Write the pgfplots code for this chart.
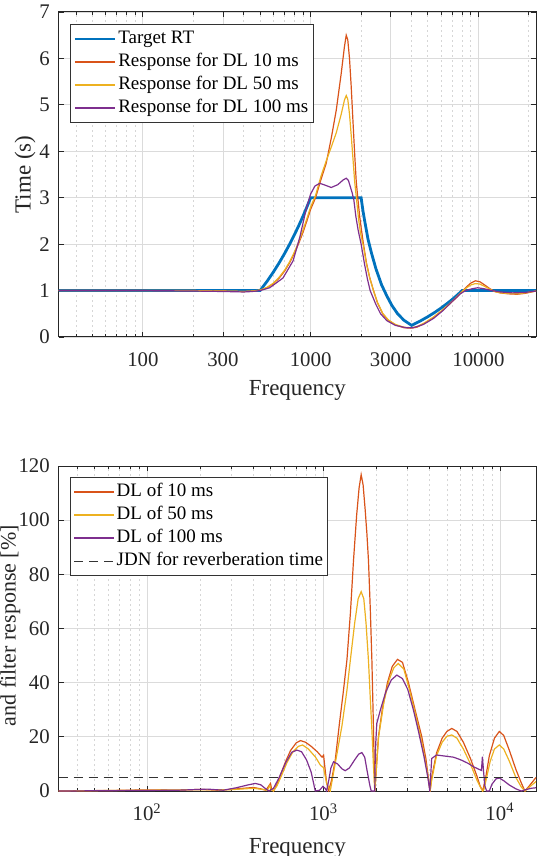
\documentclass[border=0pt]{standalone}
\usepackage{fontspec}
\setmainfont{Liberation Serif}
\usepackage{pgfplots}
\pgfplotsset{compat=1.18}
\definecolor{mblue}{rgb}{0,0.447,0.741}
\definecolor{morange}{rgb}{0.85,0.325,0.098}
\definecolor{myellow}{rgb}{0.929,0.694,0.125}
\definecolor{mpurple}{rgb}{0.494,0.184,0.556}
\pgfplotsset{mystyle/.style={
  scale only axis, width=238.65pt, height=162.5pt,
  axis line style={black!85,line width=0.5pt},
  tick align=inside, tick style={black!85,line width=0.4pt},
  major tick length=2.5pt, minor tick length=1.5pt,
  grid=both,
  major grid style={black!14,line width=0.4pt},
  minor grid style={black!16,dash pattern=on 1pt off 1.5pt,line width=0.4pt},
  tick label style={font=\fontsize{10.4}{12}\selectfont, text=black!85},
  xticklabel style={anchor=north, inner sep=0pt},
  yticklabel style={anchor=east, inner sep=0pt, xshift=-4.3pt},
  label style={font=\fontsize{11.5}{13}\selectfont, text=black!85},
  xlabel style={at={(axis description cs:0.5,0)}, anchor=north, inner sep=0pt},
  legend style={font=\fontsize{9.5}{11}\selectfont, draw=black!80, line width=0.5pt,
    anchor=north west, inner sep=1.5pt, cells={anchor=west},
    nodes={inner sep=1pt, text height=7pt, text depth=2.5pt}},
  legend image code/.code={\draw[##1] (0pt,0pt) -- (20pt,0pt);},
  legend cell align=left,
}}
\begin{document}
\begin{tikzpicture}
\begin{semilogxaxis}[mystyle, /pgf/number format/assume math mode=true, at={(0pt,0pt)}, anchor=north west,
  xmin=31.5, xmax=22050, ymin=0, ymax=7,
  xtick={100,300,1000,3000,10000}, xticklabels={100,300,1000,3000,10000},
  minor xtick={40,50,60,70,80,90,200,400,500,600,700,800,900,2000,4000,5000,6000,7000,8000,9000,20000},
  ytick={0,1,...,7},
  xticklabel style={yshift=-7.5pt},
  xlabel={Frequency}, xlabel style={yshift=-21.5pt},
  ylabel={Time (s)}, ylabel style={at={(axis description cs:-0.0706,0.5)}, anchor=center},
  legend style={at={(axis description cs:0.0237,0.963)}},
]
\addplot[mblue, line width=1.4pt] coordinates {
(31.5,1) (500,1) (550,1.2) (600,1.4) (650,1.6) (700,1.8) (750,2.0) (800,2.2) (850,2.4) (900,2.6) (950,2.8) (1000,3)
(2000,3) (2050,2.72) (2100,2.5) (2200,2.1) (2300,1.82) (2450,1.47) (2650,1.12) (2850,0.88) (3050,0.68) (3300,0.5) (3600,0.36) (4000,0.25)
(4500,0.344) (5000,0.4375) (5500,0.531) (6000,0.625) (6500,0.719) (7000,0.8125) (7500,0.906) (8000,1) (22050,1)};
\addlegendentry{Target RT}
\addplot[morange, line width=0.6pt] coordinates {
(31.5,1.0) (100,1.0) (200,1.0) (300,0.99) (400,0.98) (450,0.99) (500,1.01) (550,1.06) (600,1.15) (650,1.27) (700,1.42) (750,1.6) (800,1.8) (850,2.02) (900,2.25) (950,2.5) (1000,2.75)
(1070,3.0) (1150,3.38) (1240,3.75) (1330,4.3) (1422,4.89) (1522,5.68) (1590,6.25) (1630,6.5) (1665,6.4) (1705,6.0) (1745,5.4) (1785,4.7) (1830,3.95) (1870,3.35) (1910,3.0)
(1960,2.6) (2010,2.3) (2065,2.0) (2150,1.6) (2250,1.28) (2370,1.0) (2500,0.74) (2689,0.5) (2900,0.36) (3200,0.26) (3600,0.2) (3950,0.19) (4300,0.21)
(4800,0.3) (5400,0.42) (6000,0.55) (6700,0.7) (7400,0.85) (8000,0.98) (8500,1.08) (9000,1.16) (9600,1.21) (10200,1.19) (10900,1.12) (11700,1.04) (12500,0.98) (13500,0.95) (15000,0.93) (17000,0.92) (19000,0.94) (22050,0.99)};
\addlegendentry{Response for DL 10 ms}
\addplot[myellow, line width=0.6pt] coordinates {
(31.5,1.0) (100,1.0) (200,1.0) (300,0.99) (400,0.98) (450,0.99) (500,1.01) (550,1.07) (600,1.16) (650,1.29) (700,1.44) (750,1.62) (800,1.83) (850,2.05) (900,2.3) (950,2.55) (1000,2.8)
(1070,3.05) (1150,3.45) (1240,3.8) (1330,4.1) (1422,4.4) (1522,4.8) (1590,5.1) (1630,5.2) (1665,5.12) (1705,4.8) (1745,4.35) (1783,3.9) (1830,3.35) (1880,2.95) (1930,2.55)
(1980,2.25) (2065,1.95) (2150,1.58) (2250,1.27) (2370,1.0) (2500,0.75) (2689,0.51) (2900,0.37) (3200,0.27) (3600,0.21) (3950,0.2) (4300,0.22)
(4800,0.31) (5400,0.43) (6000,0.56) (6700,0.71) (7400,0.86) (8000,0.98) (8500,1.06) (9000,1.12) (9600,1.15) (10200,1.14) (10900,1.09) (11700,1.03) (12500,0.98) (13500,0.95) (15000,0.94) (17000,0.93) (19000,0.95) (22050,0.99)};
\addlegendentry{Response for DL 50 ms}
\addplot[mpurple, line width=0.6pt] coordinates {
(31.5,1.0) (100,1.0) (200,0.99) (300,0.98) (400,0.97) (450,0.98) (500,1.0) (570,1.06) (684,1.27) (786,1.64) (862,2.15) (943,2.77) (1000,3.08) (1060,3.25) (1131,3.31)
(1200,3.28) (1327,3.22) (1450,3.28) (1560,3.38) (1630,3.42) (1680,3.37) (1720,3.25) (1770,3.1) (1810,2.95) (1860,2.6) (1920,2.3) (2000,2.0) (2100,1.55) (2180,1.25) (2263,1.0)
(2450,0.7) (2612,0.5) (2850,0.35) (3200,0.25) (3700,0.2) (4100,0.2) (4700,0.27) (5400,0.4) (6200,0.58) (7000,0.77) (7800,0.93) (8400,1.0) (9200,1.04) (9900,1.06) (10800,1.04) (12000,1.0) (13500,0.97) (16000,0.95) (19000,0.96) (22050,0.99)};
\addlegendentry{Response for DL 100 ms}
\end{semilogxaxis}
\begin{semilogxaxis}[mystyle, /pgf/number format/assume math mode=true, at={(0pt,-227pt)}, anchor=north west,
  xmin=31.5, xmax=16000, ymin=0, ymax=120,
  xtick={100,1000,10000}, xticklabels={10\textsuperscript{2},10\textsuperscript{3},10\textsuperscript{4}},
  minor xtick={40,50,60,70,80,90,200,300,400,500,600,700,800,900,2000,3000,4000,5000,6000,7000,8000,9000},
  ytick={0,20,...,120},
  xticklabel style={yshift=-6pt},
  xlabel={Frequency}, xlabel style={yshift=-23.5pt},
  ylabel={and filter response [\%]}, ylabel style={at={(axis description cs:-0.0905,0.509)}, anchor=base, font=\fontsize{11}{13}\selectfont},
  legend style={at={(axis description cs:0.0237,0.966)}},
]
\addplot[morange, line width=0.6pt] coordinates {
(31.5,0) (60,0.2) (100,0.4) (150,0.3) (200,0.6) (250,0.3) (300,0.6) (350,1.0) (400,1.3) (440,0.8) (470,0.3) (485,1.5) (500,2.8) (508,0.5) (520,0)
(540,2) (570,6) (610,11) (650,15) (700,17.8) (740,18.6) (790,18) (850,16.5) (920,14.5) (980,12.5) (1000,13.2) (1010,10.5) (1040,3) (1067,0)
(1110,4) (1164,11.4) (1230,25) (1290,36) (1356,48.4) (1420,66) (1477,85) (1540,102) (1590,112) (1633,116.8) (1675,113) (1720,104) (1760,95) (1797,85) (1840,67) (1878,48.4) (1910,28) (1935,11) (1951,0)
(1990,8) (2046,20) (2150,30) (2301,40) (2450,46) (2623,48.6) (2800,47.5) (3027,40) (3300,30) (3603,20) (3800,12) (4015,0)
(4100,5) (4365,14) (4700,19.5) (5000,22) (5329,23.1) (5700,22) (6200,18) (6800,12) (7400,5.5) (7700,2) (7980,0)
(8300,5) (8700,13) (9300,19.5) (9910,22) (10500,20.5) (11300,15) (12300,8) (13200,3) (13850,0) (14700,2) (16000,5)};
\addlegendentry{DL of 10 ms}
\addplot[myellow, line width=0.6pt] coordinates {
(31.5,0) (100,0.3) (200,0.5) (300,0.5) (400,1) (450,0.6) (480,0.3) (495,2) (505,0.5) (520,0)
(545,2) (580,6) (620,10.5) (670,14.5) (720,16.5) (760,17) (820,15.5) (900,12.5) (960,9.5) (1000,8.6) (1010,7) (1040,3) (1091,0)
(1140,7) (1200,15) (1270,24) (1355,37) (1416,48) (1500,62) (1570,71) (1633,73.6) (1690,71) (1740,62) (1797,48) (1840,34) (1878,22.7) (1915,10) (1950,0)
(1990,8) (2050,20) (2200,33) (2350,41) (2500,45.5) (2650,47.1) (2850,45) (3050,38) (3300,29) (3600,18) (3850,8) (4015,0)
(4100,4) (4365,13) (4700,18) (5000,20.2) (5329,20.7) (5700,19.5) (6200,15.5) (6800,10) (7400,4) (7800,1) (7980,0)
(8100,0.5) (8400,5) (8800,11) (9300,15.5) (9910,17) (10500,15.5) (11300,11) (12300,5) (13200,1.5) (13850,0) (14700,1.5) (16000,3.5)};
\addlegendentry{DL of 50 ms}
\addplot[mpurple, line width=0.6pt] coordinates {
(31.5,0) (100,0.2) (150,0.3) (219,0.7) (270,0.3) (320,1.2) (370,2.2) (410,2.8) (440,2.3) (470,0.8) (490,0)
(520,1) (560,5) (610,10.5) (660,14.3) (706,15.1) (750,14.5) (800,11.5) (850,7) (880,2.5) (897,0) (950,0.3) (990,1.7) (1020,1) (1040,0)
(1070,4) (1100,8.5) (1139,10.8) (1200,10) (1270,8.2) (1326,7.5) (1400,8.5) (1500,11.5) (1580,13.6) (1648,14.2) (1710,12.5) (1770,7) (1830,2) (1862,0) (1950,0)
(1965,15) (2003,25) (2100,30) (2250,36.5) (2420,41) (2601,42.8) (2800,41.5) (3000,37.5) (3228,30) (3450,22) (3700,13) (3900,5) (4000,0)
(4100,12) (4365,13.3) (5000,12.8) (5440,12.5) (6000,11.5) (6600,10.2) (7063,9) (7600,8) (7850,7.6) (7950,12.7) (8050,8) (8200,2) (8390,0) (8700,0)
(9000,2.5) (9500,4.5) (9910,4.8) (10500,3.8) (11300,2.2) (12300,0.8) (13200,0) (14000,0.5) (15000,1) (16000,1.2)};
\addlegendentry{DL of 100 ms}
\addplot[black!80, line width=0.5pt, dash pattern=on 4.5pt off 3pt] coordinates {(31.5,5) (16000,5)};
\addlegendentry{JDN for reverberation time}
\end{semilogxaxis}
\pgfresetboundingbox
\useasboundingbox (-29.35pt,6pt) rectangle (240.15pt,-422pt);
\end{tikzpicture}
\end{document}
